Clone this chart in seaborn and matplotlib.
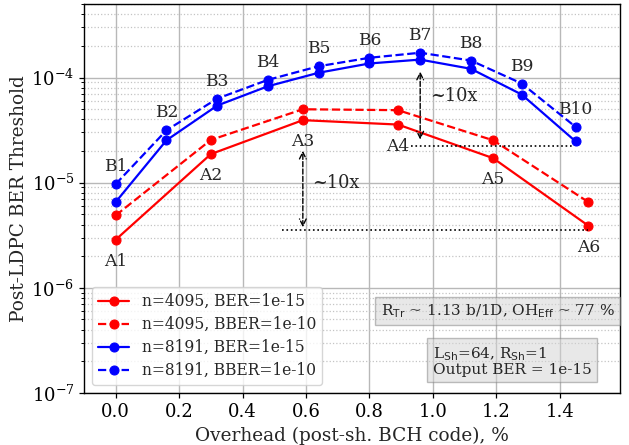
import numpy as np
import pandas as pd
import matplotlib
matplotlib.use("Agg")
import matplotlib.pyplot as plt
import seaborn as sns

# Overhead values (post-shortening BCH code), %
oh_4095 = [0.0, 0.30, 0.59, 0.89, 1.19, 1.49]
oh_8191 = [0.0, 0.16, 0.32, 0.48, 0.64, 0.80, 0.96, 1.12, 1.28, 1.45]

# Post-LDPC BER thresholds
thr_4095_ber = [2.87e-6, 1.87e-5, 3.93e-5, 3.57e-5, 1.71e-5, 3.9e-6]
thr_4095_bber = [4.89e-6, 2.55e-5, 4.99e-5, 4.89e-5, 2.53e-5, 6.55e-6]
thr_8191_ber = [6.55e-6, 2.53e-5, 5.41e-5, 8.26e-5, 1.11e-4, 1.36e-4,
                1.48e-4, 1.21e-4, 6.89e-5, 2.47e-5]
thr_8191_bber = [9.7e-6, 3.15e-5, 6.3e-5, 9.5e-5, 1.28e-4, 1.54e-4,
                 1.72e-4, 1.45e-4, 8.77e-5, 3.39e-5]

labels_a = ["A1", "A2", "A3", "A4", "A5", "A6"]
labels_b = ["B1", "B2", "B3", "B4", "B5", "B6", "B7", "B8", "B9", "B10"]

series_names = ["n=4095, BER=1e-15", "n=4095, BBER=1e-10",
                "n=8191, BER=1e-15", "n=8191, BBER=1e-10"]

sns.set_theme(style="ticks")
plt.rcParams["font.family"] = ["DejaVu Serif"]
plt.rcParams["font.size"] = 12
plt.rcParams["mathtext.fontset"] = "dejavusans"

fig = plt.figure(figsize=(6.29, 4.45), dpi=100)
ax = fig.add_axes([84 / 629, 1 - 393 / 445, (620 - 84) / 629, (393 - 4) / 445])

series = [
    (oh_4095, thr_4095_ber, "red", "-"),
    (oh_4095, thr_4095_bber, "red", "--"),
    (oh_8191, thr_8191_ber, "blue", "-"),
    (oh_8191, thr_8191_bber, "blue", "--"),
]
for (x, y, c, ls), name in zip(series, series_names):
    df = pd.DataFrame({"oh": x, "thr": y})
    sns.lineplot(data=df, x="oh", y="thr", ax=ax, color=c, linestyle=ls,
                 marker="o", markersize=6.5, markeredgecolor=c, linewidth=1.6,
                 label=name, sort=False)

ax.set_yscale("log")
ax.set_ylim(1e-7, 5e-4)
ax.set_xlim(-0.1, 1.59)
ax.set_xticks(np.arange(0.0, 1.41, 0.2))

ax.grid(True, which="major", color="#b8b8b8", linewidth=1.0)
ax.grid(True, which="minor", axis="y", color="#c4c4c4", linestyle=":", linewidth=0.9)
ax.set_axisbelow(True)
for s in ax.spines.values():
    s.set_color("black")
    s.set_linewidth(1.0)
ax.tick_params(which="major", direction="out", colors="black", labelsize=13,
               length=3.5, width=0.9)
ax.tick_params(which="minor", direction="out", colors="black", length=2, width=0.7)

ax.set_xlabel("Overhead (post-sh. BCH code), %", fontsize=13.3, labelpad=4)
ax.set_ylabel("Post-LDPC BER Threshold", fontsize=13.3, labelpad=2)

# point labels
for xv, yv, t in zip(oh_8191, thr_8191_bber, labels_b):
    ax.annotate(t, (xv, yv), xytext=(0, 12.5), textcoords="offset points",
                ha="center", va="center", fontsize=12.3)
for xv, yv, t in zip(oh_4095, thr_4095_ber, labels_a):
    ax.annotate(t, (xv, yv), xytext=(0, -15.5), textcoords="offset points",
                ha="center", va="center", fontsize=12.3)

# ~10x gain markers
arrow = dict(arrowstyle="<->", linestyle="--", color="black", lw=1.0)
ax.annotate("", xy=(0.59, 2.14e-5), xytext=(0.59, 3.55e-6), arrowprops=arrow)
ax.plot([0.523, 1.49], [3.55e-6, 3.55e-6], color="black", linestyle=":", linewidth=1.2)
ax.text(0.62, 1.0e-5, "~10x", fontsize=12.8, va="center", ha="left")

ax.annotate("", xy=(0.96, 1.21e-4), xytext=(0.96, 2.42e-5), arrowprops=arrow)
ax.plot([0.93, 1.44], [2.25e-5, 2.25e-5], color="black", linestyle=":", linewidth=1.2)
ax.text(0.99, 6.6e-5, "~10x", fontsize=12.8, va="center", ha="left")

box = dict(facecolor="lightgray", edgecolor="gray", alpha=0.5)
ax.text(0.835, 6.04e-7, r"R$_{\rm Tr}$ ~ 1.13 b/1D, OH$_{\rm Eff}$ ~ 77 %",
        fontsize=11, va="center", ha="left", bbox=box)
ax.text(1.0, 2.02e-7, "L$_{\\rm Sh}$=64, R$_{\\rm Sh}$=1\nOutput BER = 1e-15",
        fontsize=11, va="center", ha="left", bbox=box, linespacing=1.0)

leg = ax.legend(loc="lower left", fontsize=11.2, framealpha=0.8, handlelength=2,
                borderaxespad=0.5, labelspacing=0.38)

fig.savefig("out.png", dpi=100)
